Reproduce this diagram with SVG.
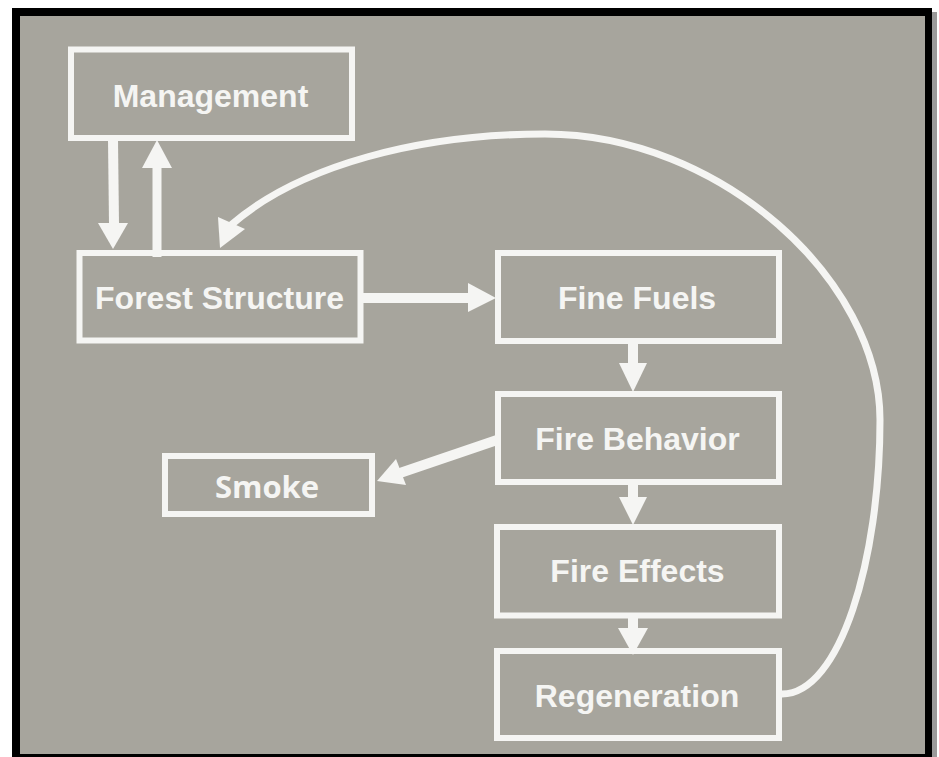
<svg xmlns="http://www.w3.org/2000/svg" width="939" height="757" viewBox="0 0 939 757">
<style>
.box{fill:none;stroke:#f5f5f3;stroke-width:6}
.lbl{font-family:"Liberation Sans",Arial,sans-serif;font-weight:bold;font-size:32px;fill:#f5f5f3;text-anchor:middle}
.lbl2{font-family:"Open Sans","Noto Sans",sans-serif;font-weight:bold;font-size:31px;fill:#f5f5f3;text-anchor:middle}
.shaft{stroke:#f5f5f3;stroke-width:10;fill:none}
.head{fill:#f5f5f3}
</style>
<rect x="0" y="0" width="939" height="757" fill="#ffffff"/>
<rect x="932" y="12" width="5" height="745" fill="#9a9a9a"/>
<rect x="12" y="8" width="920" height="752" fill="#000000"/>
<rect x="20" y="16" width="905" height="738" fill="#a7a59d"/>

<g id="connectors">
  <line class="shaft" x1="113" y1="140" x2="114" y2="224"/>
  <polygon class="head" points="98,223 128,223 113,249"/>
  <line class="shaft" x1="157" y1="257" x2="157" y2="167" style="stroke-width:9"/>
  <polygon class="head" points="142,168 172,168 157,140"/>
  <line class="shaft" x1="363" y1="298" x2="469" y2="298"/>
  <polygon class="head" points="468,283 468,312 496,298"/>
  <line class="shaft" x1="633" y1="343" x2="633" y2="364"/>
  <polygon class="head" points="619,363 647,363 633,392"/>
  <line class="shaft" x1="633" y1="485" x2="633" y2="498"/>
  <polygon class="head" points="619,497 647,497 633,525"/>
  <line class="shaft" x1="633" y1="618" x2="633" y2="629"/>
  <polygon class="head" points="618,628 648,628 633,655"/>
  <line class="shaft" x1="497" y1="440" x2="400" y2="473"/>
  <polygon class="head" points="377,481 396,459 406,485"/>
  <path class="shaft" style="stroke-width:7" d="M 782 694 C 840 694, 880 560, 880 420 C 880 280, 720 134, 545 134 C 420 134, 300 165, 231 225"/>
  <polygon class="head" points="220,248 218,217 245,229"/>
</g>

<g id="management">
  <rect class="box" x="71" y="49.5" width="281" height="88.5"/>
  <text class="lbl" x="210.5" y="107">Management</text>
</g>
<g id="forest-structure">
  <rect class="box" x="79.5" y="253" width="281" height="87.5"/>
  <text class="lbl" x="219.5" y="309">Forest Structure</text>
</g>
<g id="fine-fuels">
  <rect class="box" x="498" y="253" width="281" height="88"/>
  <text class="lbl" x="637" y="309">Fine Fuels</text>
</g>
<g id="fire-behavior">
  <rect class="box" x="498" y="394" width="281" height="88"/>
  <text class="lbl" x="637.5" y="450">Fire Behavior</text>
</g>
<g id="smoke">
  <rect class="box" x="165" y="456" width="207" height="58"/>
  <text class="lbl2" x="267" y="498">Smoke</text>
</g>
<g id="fire-effects">
  <rect class="box" x="497" y="527" width="282" height="88.5"/>
  <text class="lbl" x="637.5" y="582">Fire Effects</text>
</g>
<g id="regeneration">
  <rect class="box" x="497" y="651" width="282" height="87"/>
  <text class="lbl" x="637" y="707">Regeneration</text>
</g>
</svg>
